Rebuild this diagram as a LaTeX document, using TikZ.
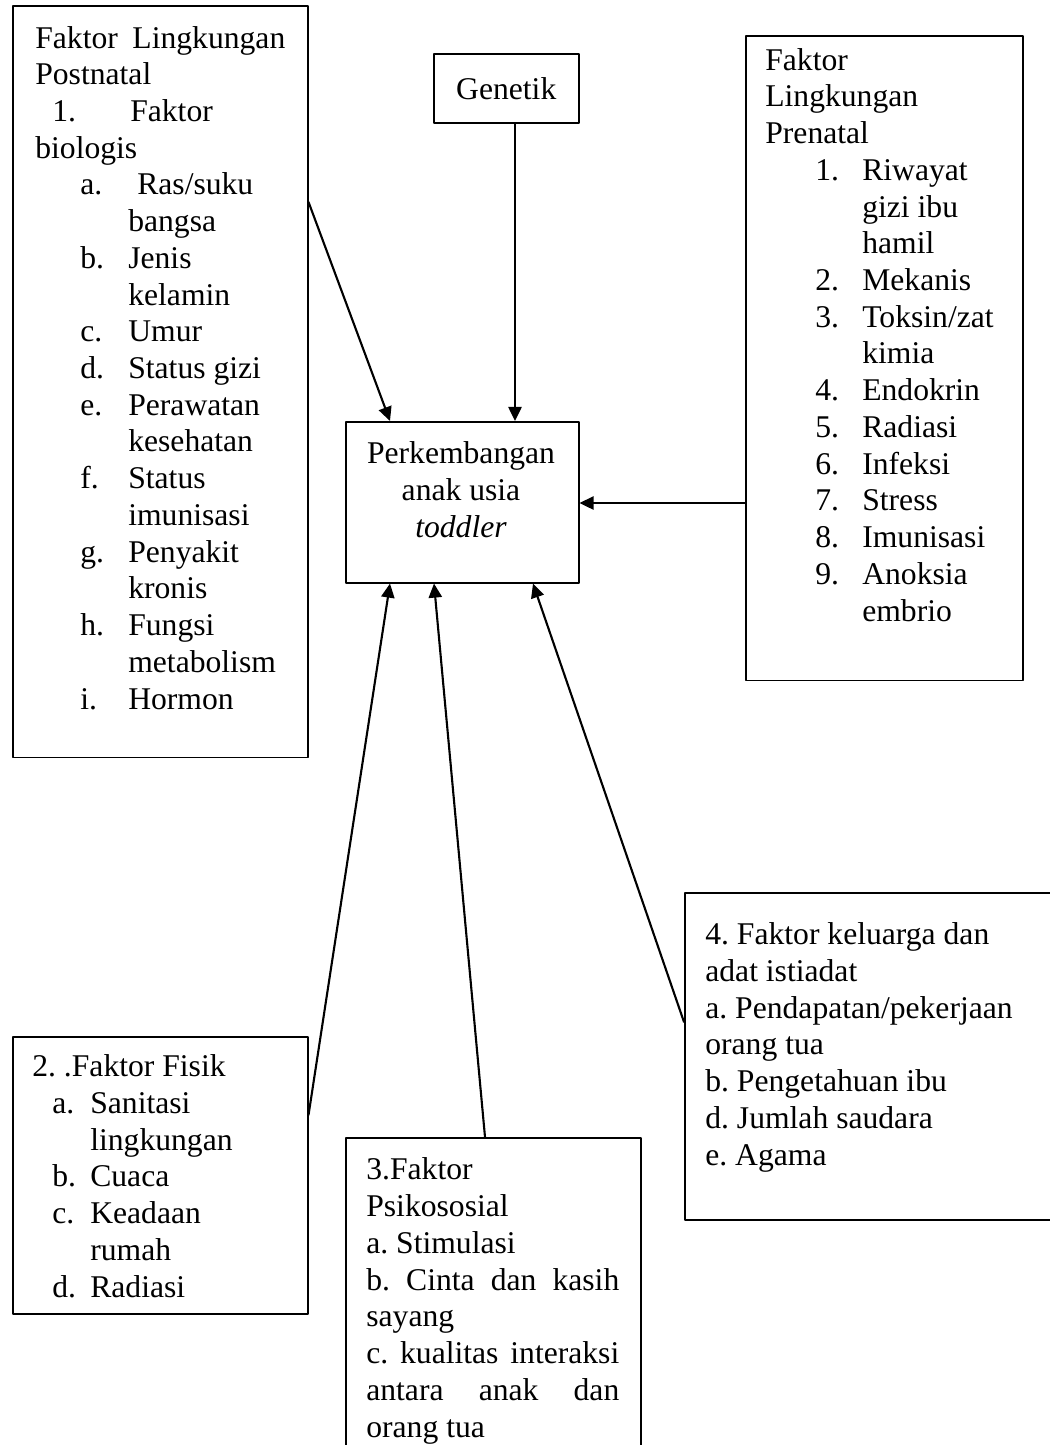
\documentclass[tikz,border=0pt]{standalone}
\usepackage{fontspec}
\setmainfont{Liberation Serif}
\usetikzlibrary{arrows.meta,calc}
\frenchspacing
\newcommand{\bodyfont}{\fontsize{18}{20.9}\selectfont}
% list lines: Postnatal, Prenatal, Fisik
\newcommand{\pitem}[2]{\hspace*{0.9cm}\makebox[0.96cm][l]{#1}#2}
\newcommand{\pcont}[1]{\hspace*{1.86cm}#1}
\newcommand{\nitem}[2]{\hspace*{1cm}\makebox[0.94cm][l]{#1}#2}
\newcommand{\ncont}[1]{\hspace*{1.94cm}#1}
\newcommand{\fitem}[2]{\hspace*{0.4cm}\makebox[0.76cm][l]{#1}#2}
\newcommand{\fcont}[1]{\hspace*{1.16cm}#1}
\begin{document}
\begin{tikzpicture}[x=0.02cm, y=-0.02cm, font=\bodyfont, line join=round, line cap=round,
  box/.style={draw, line width=0.9pt, inner sep=0pt, anchor=north west},
  txt/.style={inner sep=0pt, align=left, anchor=base west},
  arr/.style={-{Triangle[length=8pt,width=7.5pt]}, line width=1.2pt}]
\useasboundingbox (0,0) rectangle (1050,1445);
\clip (0,0) rectangle (1050,1445);
% boxes
\node[box, minimum width=5.9cm, minimum height=15.04cm] (post) at (12,5) {};
\node[box, minimum width=2.9cm, minimum height=1.38cm] (gen) at (433,53) {Genetik};
\node[box, minimum width=4.66cm, minimum height=3.22cm] (cen) at (345,421) {};
\node[box, minimum width=5.54cm, minimum height=12.9cm] (pre) at (745,35) {};
\node[box, minimum width=5.9cm, minimum height=5.54cm] (fis) at (12,1036) {};
\node[box, minimum width=5.9cm, minimum height=8cm] (psi) at (345,1137) {};
\node[box, minimum width=10cm, minimum height=6.54cm] (kel) at (684,892) {};
% texts (placed at the baseline of their last line)
\node[txt] (posttxt) at (35,709) {\makebox[5cm][s]{Faktor Lingkungan}\\
  Postnatal\\
  \hspace*{0.34cm}\makebox[1.56cm][l]{1.}Faktor\\
  biologis\\
  \pitem{a.}{\hspace{0.18cm}Ras/suku}\\ \pcont{bangsa}\\
  \pitem{b.}{Jenis}\\ \pcont{kelamin}\\
  \pitem{c.}{Umur}\\
  \pitem{d.}{Status gizi}\\
  \pitem{e.}{Perawatan}\\ \pcont{kesehatan}\\
  \pitem{f.}{Status}\\ \pcont{imunisasi}\\
  \pitem{g.}{Penyakit}\\ \pcont{kronis}\\
  \pitem{h.}{Fungsi}\\ \pcont{metabolism}\\
  \pitem{i.}{Hormon}};
\node[txt, align=center, anchor=base] (centxt) at (461,537) {Perkembangan\\anak usia\\\textit{toddler}};
\node[txt] (pretxt) at (765,621) {Faktor\\ Lingkungan\\ Prenatal\\
  \nitem{1.}{Riwayat}\\ \ncont{gizi ibu}\\ \ncont{hamil}\\
  \nitem{2.}{Mekanis}\\
  \nitem{3.}{Toksin/zat}\\ \ncont{kimia}\\
  \nitem{4.}{Endokrin}\\
  \nitem{5.}{Radiasi}\\
  \nitem{6.}{Infeksi}\\
  \nitem{7.}{Stress}\\
  \nitem{8.}{Imunisasi}\\
  \nitem{9.}{Anoksia}\\ \ncont{embrio}};
\node[txt] (fistxt) at (32,1297) {2. .Faktor Fisik\\
  \fitem{a.}{Sanitasi}\\ \fcont{lingkungan}\\
  \fitem{b.}{Cuaca}\\
  \fitem{c.}{Keadaan}\\ \fcont{rumah}\\
  \fitem{d.}{Radiasi}};
\node[txt] (psitxt) at (366,1437) {3.Faktor\\ Psikososial\\ a. Stimulasi\\
  \makebox[5.06cm][s]{b. Cinta dan kasih}\\ sayang\\
  \makebox[5.06cm][s]{c. kualitas interaksi}\\
  \makebox[5.06cm][s]{antara anak dan}\\ orang tua};
\node[txt] (keltxt) at (705,1165) {4. Faktor keluarga dan\\ adat istiadat\\
  a. Pendapatan/pekerjaan\\ orang tua\\ b. Pengetahuan ibu\\
  d. Jumlah saudara\\ e. Agama};
% arrow ends
\path
  ($(post.north east)+(0,197)$) coordinate (A)
  ($(gen.south west)+(82,0)$) coordinate (B)
  ($(pre.north west)+(0,468)$) coordinate (C)
  ($(fis.north east)+(0,79)$) coordinate (D)
  ($(psi.north west)+(140,0)$) coordinate (E)
  ($(kel.north west)+(0,130)$) coordinate (F)
  ($(cen.north west)+(45,0)$) coordinate (a)
  (cen.north -| B) coordinate (b)
  (cen.east |- C) coordinate (c)
  ($(cen.south west)+(45,0)$) coordinate (d)
  ($(cen.south west)+(89,0)$) coordinate (e)
  ($(cen.south west)+(188,0)$) coordinate (f)
  ;
\foreach \s/\t in {A/a,B/b,C/c,D/d,E/e,F/f}
  \draw[arr] (\s) -- (\t);
\end{tikzpicture}
\end{document}
